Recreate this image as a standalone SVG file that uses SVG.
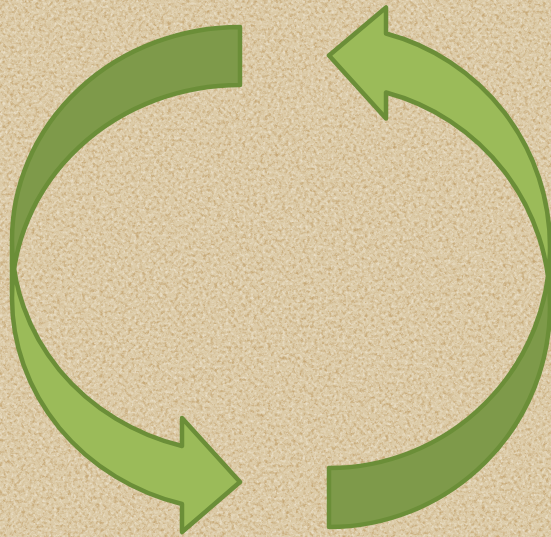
<svg xmlns="http://www.w3.org/2000/svg" width="551" height="537" viewBox="0 0 551 537">
  <defs>
    <style>
      .front { fill: #9BBB59; stroke: none; }
      .back { fill: #7E9A4A; stroke: none; }
      .outline { fill: none; stroke: #6B8E38; stroke-width: 4.5; stroke-linejoin: round; }
    </style>
    <filter id="paper" x="0" y="0" width="100%" height="100%" color-interpolation-filters="sRGB">
      <feTurbulence type="fractalNoise" baseFrequency="0.28" numOctaves="3" seed="7" result="n"/>
      <feColorMatrix in="n" type="matrix" values="0 0 0 0 0.74  0 0 0 0 0.60  0 0 0 0 0.38  2.6 0 0 0 -1.15" result="dark"/>
      <feTurbulence type="fractalNoise" baseFrequency="0.35" numOctaves="2" seed="21" result="n2"/>
      <feColorMatrix in="n2" type="matrix" values="0 0 0 0 0.94  0 0 0 0 0.91  0 0 0 0 0.84  2.6 0 0 0 -1.2" result="light"/>
      <feMerge>
        <feMergeNode in="dark"/>
        <feMergeNode in="light"/>
      </feMerge>
    </filter>
  </defs>
  <g id="background">
    <rect x="0" y="0" width="551" height="537" fill="#DCCBA8"/>
    <rect x="0" y="0" width="551" height="537" fill="#DCCBA8" filter="url(#paper)" opacity="0.7"/>
  </g>
  <g id="arrow-left" transform="translate(12,27)">
    <path class="front" d="M 0,213 A 228,213 0 0,0 170,419 L 170,391 L 228,455 L 170,505 L 170,477 A 228,213 0 0,1 0,271 Z"/>
    <path class="back" d="M 228,58 A 228,213 0 0,0 0,271 L 0,213 A 228,213 0 0,1 228,0 Z"/>
    <path class="outline" d="M 0,213 A 228,213 0 0,0 170,419 L 170,391 L 228,455 L 170,505 L 170,477 A 228,213 0 0,1 0,271 L 0,213 A 228,213 0 0,1 228,0 L 228,58 A 228,213 0 0,0 0,271"/>
  </g>
  <g id="arrow-right" transform="matrix(-1,0,0,-1,550,527)">
    <path class="front" d="M 0,221 A 221,221 0 0,0 164,434.5 L 164,408.5 L 221,471.5 L 164,519.5 L 164,493.5 A 221,221 0 0,1 0,280 Z"/>
    <path class="back" d="M 221,59 A 221,221 0 0,0 0,280 L 0,221 A 221,221 0 0,1 221,0 Z"/>
    <path class="outline" d="M 0,221 A 221,221 0 0,0 164,434.5 L 164,408.5 L 221,471.5 L 164,519.5 L 164,493.5 A 221,221 0 0,1 0,280 L 0,221 A 221,221 0 0,1 221,0 L 221,59 A 221,221 0 0,0 0,280"/>
  </g>
  <g id="connectors"/>
</svg>
